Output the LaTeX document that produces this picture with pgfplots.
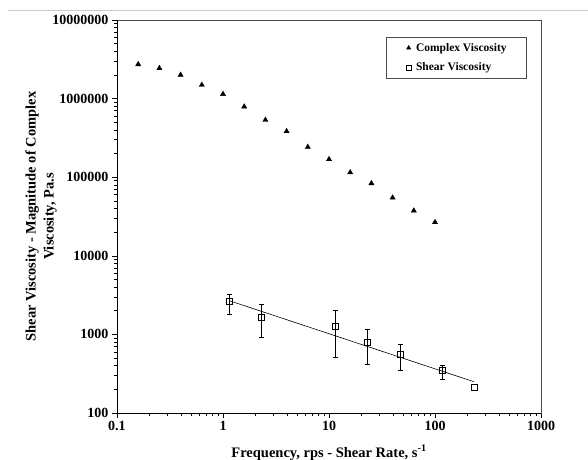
\documentclass[border=0pt]{standalone}
\usepackage{fontspec}
\setmainfont{Liberation Serif}
\usepackage{pgfplots}
\pgfplotsset{compat=1.18}
\begin{document}
\begin{tikzpicture}
\begin{axis}[
    scale only axis,
    width=424pt, height=393pt,
    xmode=log, ymode=log,
    xmin=0.1, xmax=1000, ymin=100, ymax=10000000,
    xtick={0.1,1,10,100,1000},
    xticklabels={0.1,1,10,100,1000},
    ytick={100,1000,10000,100000,1000000,10000000},
    yticklabels={100,1000,10000,100000,1000000,10000000},
    minor xtick={0.2,0.3,0.4,0.5,0.6,0.7,0.8,0.9,2,3,4,5,6,7,8,9,20,30,40,50,60,70,80,90,200,300,400,500,600,700,800,900},
    minor ytick={200,300,400,500,600,700,800,900,2000,3000,4000,5000,6000,7000,8000,9000,20000,30000,40000,50000,60000,70000,80000,90000,200000,300000,400000,500000,600000,700000,800000,900000,2000000,3000000,4000000,5000000,6000000,7000000,8000000,9000000},
    tick pos=left, tick align=outside,
    major tick length=5pt, minor tick length=3pt,
    every tick/.style={black, line width=0.6pt},
    axis line style={black!70, line width=0.7pt},
    /pgf/number format/assume math mode=true,
    tick label style={font=\fontsize{14}{16}\selectfont\bfseries},
    xlabel={Frequency, rps - Shear Rate, s\textsuperscript{-1}},
    ylabel={Shear Viscosity - Magnitude of Complex\\Viscosity, Pa.s},
    label style={font=\fontsize{14.5}{18}\selectfont\bfseries},
    xlabel style={at={(axis description cs:0.5,-0.112)}, anchor=base},
    ylabel style={at={(axis description cs:-0.1792,0.5)}, anchor=center, align=center},
    legend style={at={(0.8007,0.957)}, anchor=north, draw=black!70, line width=0.7pt,
        font=\fontsize{11.5}{13}\selectfont\bfseries, inner xsep=18pt, inner ysep=4pt,
        row sep=6pt},
    legend cell align=left,
    legend image code/.code={
        \path (0pt,0pt) (9pt,0pt);
        \draw[mark repeat=2,mark phase=2,#1,mark size=2.3pt] plot coordinates {(0pt,0pt)(4pt,0pt)(8pt,0pt)};},
]
% complex viscosity
\addplot[only marks, mark=triangle*, mark size=3pt, black] coordinates {
    (0.1585,2730000) (0.2512,2430000) (0.3981,2000000) (0.631,1490000)
    (1,1140000) (1.585,790000) (2.512,535000) (3.981,384000)
    (6.31,242000) (10,169000) (15.85,115000) (25.12,83600)
    (39.81,54800) (63.1,37500) (100,26700)
};
\addlegendentry{Complex Viscosity}
% shear viscosity
\addplot[only marks, mark=square, mark size=3pt, black, line width=0.5pt,
    error bars/.cd, y dir=both, y explicit,
    error bar style={line width=0.5pt, black},
    error mark options={rotate=90, mark size=2.5pt, line width=0.5pt}] coordinates {
    (1.146,2606) += (0,660) -= (0,803)
    (2.32,1664) += (0,750) -= (0,756)
    (11.57,1278) += (0,725) -= (0,763)
    (23.2,794) += (0,354) -= (0,382)
    (46.8,559) += (0,189) -= (0,207)
    (117,349) += (0,55) -= (0,78)
};
\addlegendentry{Shear Viscosity}
\addplot[only marks, mark=square, mark size=3pt, black, line width=0.5pt, forget plot] coordinates {
    (233,212)
};
% power-law fit
\addplot[black, line width=0.6pt, forget plot] coordinates {(1.146,2685) (233,250)};
\draw[black, line width=0.9pt] (rel axis cs:0,1) -- (rel axis cs:0,0) -- (rel axis cs:1,0);
\end{axis}
\draw[black!20, line width=0.8pt] (-109pt,403pt) -- (471pt,403pt);
\pgfresetboundingbox
\path[use as bounding box] (-117pt,-46pt) rectangle (471pt,413pt);
\end{tikzpicture}
\end{document}
